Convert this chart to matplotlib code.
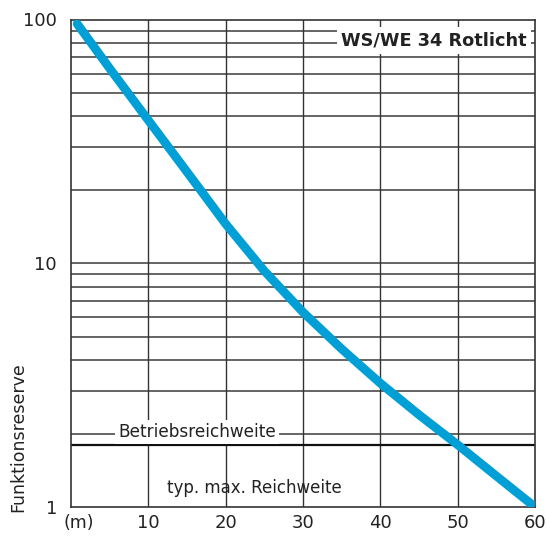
import matplotlib
matplotlib.use("Agg")
import matplotlib.pyplot as plt
from matplotlib.ticker import FixedLocator, NullFormatter

# Data
distance_m = [0.8, 5, 10, 15, 20, 25, 30, 35, 40, 45, 50, 55, 60]
reserve = [96, 63, 38.6, 23.7, 14.5, 9.3, 6.3, 4.45, 3.22, 2.39, 1.8, 1.34, 1.0]
x_ticks = [10, 20, 30, 40, 50, 60]
x_tick_labels = ["10", "20", "30", "40", "50", "60"]
y_ticks = [1, 10, 100]
y_tick_labels = ["1", "10", "100"]
minor_grid = [2, 3, 4, 5, 6, 7, 8, 9, 20, 30, 40, 50, 60, 70, 80, 90]
operating_reserve = 1.8

title = "WS/WE 34 Rotlicht"
ylabel = "Funktionsreserve"
unit_label = "(m)"
label_operating = "Betriebsreichweite"
label_max = "typ. max. Reichweite"

plt.rcParams["font.family"] = ["DejaVu Sans"]

fig = plt.figure(figsize=(5.46, 5.37), dpi=100)
ax = fig.add_axes([71 / 546, 1 - 507 / 537, (535 - 71) / 546, (507 - 19.5) / 537])
ax.set_yscale("log")
ax.set_xlim(0, 60)
ax.set_ylim(1, 100)

# grid lines
for v in minor_grid + [10]:
    ax.axhline(v, color="#4a4a4a", lw=1.2, zorder=1)
for v in x_ticks[:-1]:
    ax.axvline(v, color="#333333", lw=1.0, zorder=1)
ax.axhline(operating_reserve, color="#111111", lw=1.6, zorder=1)

for s in ax.spines.values():
    s.set_color("#333333")
    s.set_linewidth(1.2)

ax.plot(distance_m, reserve, color="#009fd6", lw=6.3, solid_capstyle="round",
        solid_joinstyle="round", zorder=3)

ax.yaxis.set_major_locator(FixedLocator(y_ticks))
ax.set_yticklabels(y_tick_labels)
ax.yaxis.set_minor_formatter(NullFormatter())
ax.yaxis.set_minor_locator(FixedLocator([]))
ax.set_xticks(x_ticks)
ax.set_xticklabels(x_tick_labels)
ax.tick_params(axis="both", length=0, labelsize=13, colors="#222222")
ax.tick_params(axis="x", pad=5)
ax.tick_params(axis="y", pad=10)

ax.text(1.0, -0.033, unit_label, transform=ax.get_xaxis_transform(),
        ha="center", va="center", fontsize=12.5, color="#222222")

fig.text(18 / 546, 1 - 437.5 / 537, ylabel, rotation=90, ha="center", va="center",
         fontsize=12.5, color="#222222")

ax.text(16.3, 2.03, label_operating, ha="center", va="center", fontsize=12.2,
        color="#222222", zorder=2,
        bbox=dict(facecolor="white", edgecolor="none", pad=2))
ax.text(23.7, 1.197, label_max, ha="center", va="center", fontsize=12,
        color="#222222", zorder=2)

ax.text(58.9, 82, title, ha="right", va="center", fontsize=12.8, fontweight="bold",
        color="#222222", zorder=4,
        bbox=dict(facecolor="white", edgecolor="none", pad=3))

fig.savefig("out.png", dpi=100)
